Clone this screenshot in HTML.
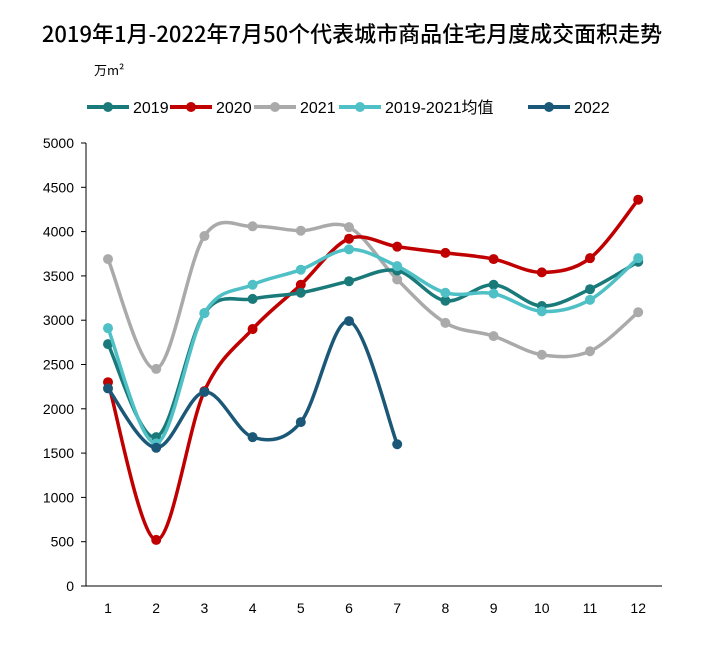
<!DOCTYPE html>
<html><head><meta charset="utf-8"><style>
body{margin:0;background:#fff}
svg text{font-family:"Liberation Sans","Noto Sans CJK SC",sans-serif}
</style></head><body>
<svg id="s" width="701" height="640" xmlns="http://www.w3.org/2000/svg">
<text x="352" y="42" text-anchor="middle" font-size="22" font-weight="500" fill="#000" style="font-family:'Noto Sans CJK SC',sans-serif">2019年1月-2022年7月50个代表城市商品住宅月度成交面积走势</text>
<text x="94" y="75" font-size="13" fill="#000" style="font-family:'Noto Sans CJK SC',sans-serif">万m²</text>
<g id="leg" font-size="16" fill="#000"></g>
<g id="ax"></g>
<g id="ser"></g>
</svg>
<script>
const X=i=>108+(i)*48.2, Y=v=>586-v*0.0886;
const ns="http://www.w3.org/2000/svg";
function el(p,t,a,txt){const e=document.createElementNS(ns,t);for(const k in a)e.setAttribute(k,a[k]);if(txt!==undefined)e.textContent=txt;p.appendChild(e);return e;}
const ax=document.getElementById('ax');
el(ax,'line',{x1:86,y1:143,x2:86,y2:586,stroke:'#000','stroke-width':1});
el(ax,'line',{x1:86,y1:586,x2:662,y2:586,stroke:'#000','stroke-width':1});
for(let v=0;v<=5000;v+=500){const y=Y(v);el(ax,'line',{x1:81,y1:y,x2:86,y2:y,stroke:'#000'});el(ax,'text',{x:74,y:y+5,'text-anchor':'end','font-size':14,fill:'#000'},v);}
for(let i=0;i<12;i++){el(ax,'text',{x:X(i),y:613,'text-anchor':'middle','font-size':14,fill:'#000'},i+1);}
const S=[
['#aaaaaa',[3690,2450,3950,4060,4010,4050,3460,2970,2820,2610,2650,3090]],
['#c00000',[2300,520,2200,2900,3400,3920,3830,3760,3690,3540,3700,4360]],
['#1a7a7a',[2730,1680,3080,3240,3310,3440,3560,3220,3400,3160,3350,3660]],
['#4fc0c6',[2910,1610,3080,3400,3570,3800,3610,3310,3300,3100,3230,3700]],
['#1b5877',[2230,1560,2190,1680,1850,2990,1600]]];
const ser=document.getElementById('ser');
S.forEach(([c,d])=>{const p=d.map((v,i)=>[X(i),Y(v)]);let s=`M${p[0]}`;
for(let i=0;i<p.length-1;i++){const p0=p[i-1]||p[i],p1=p[i],p2=p[i+1],p3=p[i+2]||p2;const t=6;
s+=`C${p1[0]+(p2[0]-p0[0])/t},${p1[1]+(p2[1]-p0[1])/t} ${p2[0]-(p3[0]-p1[0])/t},${p2[1]-(p3[1]-p1[1])/t} ${p2[0]},${p2[1]}`;}
el(ser,'path',{d:s,fill:'none',stroke:c,'stroke-width':3.5});
p.forEach(q=>el(ser,'circle',{cx:q[0],cy:q[1],r:5,fill:c}));});
const leg=document.getElementById('leg');
[[87,'#1a7a7a','2019'],[170,'#c00000','2020'],[254,'#aaaaaa','2021'],[339,'#4fc0c6','2019-2021均值'],[528,'#1b5877','2022']].forEach(([x,c,t])=>{
el(leg,'line',{x1:x,y1:107,x2:x+42,y2:107,stroke:c,'stroke-width':4});el(leg,'circle',{cx:x+21,cy:107,r:5,fill:c});el(leg,'text',{x:x+46,y:113},t);});
</script>
</body></html>
